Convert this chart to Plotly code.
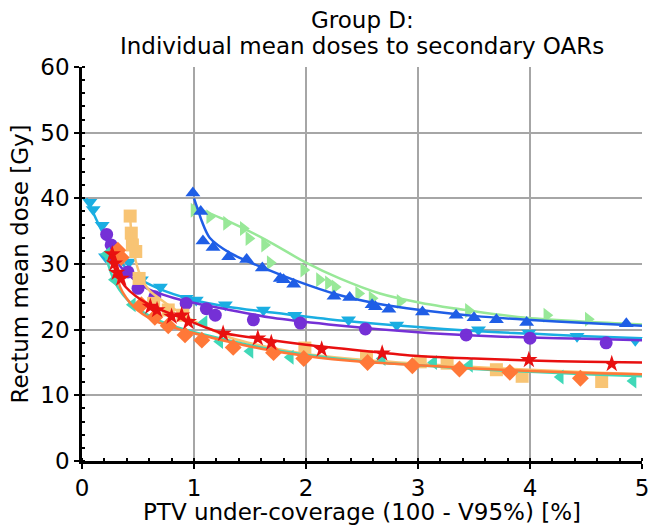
import plotly.graph_objects as go

# ---- data ----
blue_x = [0.99, 1.06, 1.08, 1.17, 1.31, 1.47, 1.61, 1.77, 1.80, 1.89, 2.25, 2.39, 2.59, 2.62, 2.74, 3.04, 3.34, 3.50, 3.70, 3.97, 4.86]
blue_y = [40.8, 38.0, 33.5, 32.5, 31.1, 30.7, 29.4, 27.8, 27.6, 26.9, 25.1, 24.9, 23.8, 23.5, 23.1, 22.7, 22.2, 21.8, 21.5, 21.1, 20.9]
blue_fit_x = [1.0, 1.04, 1.07, 1.14, 1.32, 1.62, 1.92, 2.27, 2.63, 3.02, 3.5, 3.97, 4.5, 5.0]
blue_fit_y = [40.0, 38.0, 36.5, 34.0, 31.7, 29.4, 27.4, 25.4, 24.0, 23.0, 22.1, 21.5, 21.0, 20.6]

green_x = [1.00, 1.14, 1.29, 1.44, 1.49, 1.63, 1.68, 1.98, 2.12, 2.20, 2.26, 2.47, 2.59, 2.84, 3.45, 4.15, 4.52]
green_y = [38.2, 37.2, 36.2, 35.4, 33.9, 32.9, 30.2, 29.1, 27.6, 27.1, 26.5, 25.5, 24.8, 24.3, 22.9, 22.2, 21.6]
green_fit_x = [1.0, 1.32, 1.65, 2.0, 2.3, 2.66, 3.02, 3.5, 3.97, 4.5, 5.0]
green_fit_y = [38.7, 36.4, 33.6, 30.2, 27.8, 25.5, 24.1, 22.8, 21.8, 21.2, 20.8]

cyan_x = [0.07, 0.10, 0.18, 0.21, 0.42, 0.53, 0.70, 0.93, 1.02, 1.28, 1.62, 1.90, 2.38, 2.81, 3.54, 3.99, 4.42, 4.94]
cyan_y = [39.4, 38.3, 35.9, 31.1, 30.3, 27.6, 26.5, 24.8, 24.5, 23.8, 23.0, 22.2, 21.5, 20.7, 20.0, 19.5, 19.0, 18.4]
cyan_fit_x = [0.04, 0.13, 0.22, 0.33, 0.48, 0.68, 0.98, 1.3, 1.7, 2.2, 3.0, 3.5, 4.0, 4.5, 5.0]
cyan_fit_y = [40.0, 36.7, 33.6, 30.6, 28.1, 26.3, 24.6, 23.5, 22.6, 21.6, 20.4, 19.8, 19.4, 19.0, 18.7]

purple_x = [0.22, 0.26, 0.28, 0.41, 0.50, 0.65, 0.93, 1.11, 1.19, 1.53, 1.95, 2.53, 3.43, 4.00, 4.68]
purple_y = [34.5, 32.9, 30.9, 28.8, 26.3, 25.0, 24.0, 23.2, 22.2, 21.5, 21.0, 20.1, 19.2, 18.7, 18.0]
purple_fit_x = [0.21, 0.28, 0.4, 0.58, 0.87, 1.32, 1.7, 2.2, 3.0, 3.5, 4.0, 4.5, 5.0]
purple_fit_y = [34.2, 31.1, 28.6, 26.3, 24.6, 23.0, 21.8, 20.8, 19.6, 19.1, 18.8, 18.6, 18.4]

peach_x = [0.43, 0.44, 0.45, 0.48, 0.51, 0.64, 0.77, 0.90, 1.99, 2.54, 3.02, 3.26, 3.70, 3.93, 4.64]
peach_y = [37.3, 34.7, 32.9, 31.9, 27.8, 24.0, 23.0, 22.2, 17.2, 15.9, 15.1, 14.9, 13.9, 12.9, 12.1]
peach_fit_x = [0.43, 0.46, 0.52, 0.6, 0.67, 0.93, 1.32, 1.7, 2.0, 2.5, 3.0, 3.5, 4.0, 4.5, 5.0]
peach_fit_y = [37.0, 32.0, 28.3, 26.0, 25.0, 22.0, 18.8, 17.2, 16.3, 15.4, 14.8, 14.3, 13.9, 13.5, 13.2]

orange_x = [0.32, 0.35, 0.53, 0.65, 0.77, 0.92, 1.07, 1.35, 1.71, 1.98, 2.55, 2.95, 3.37, 3.82, 4.45]
orange_y = [32.1, 31.0, 23.8, 21.9, 20.6, 19.2, 18.4, 17.3, 16.5, 15.6, 15.0, 14.5, 14.0, 13.5, 12.6]
orange_fit_x = [0.31, 0.34, 0.46, 0.64, 0.9, 1.3, 1.6, 2.0, 2.5, 3.0, 3.5, 4.0, 4.5, 5.0]
orange_fit_y = [31.0, 26.5, 23.5, 21.4, 19.9, 18.2, 17.1, 16.0, 15.1, 14.6, 14.1, 13.7, 13.4, 13.2]

red_x = [0.27, 0.29, 0.31, 0.35, 0.61, 0.67, 0.80, 0.89, 0.95, 1.26, 1.57, 1.69, 2.14, 2.68, 3.99, 4.73]
red_y = [31.5, 30.1, 28.7, 27.8, 23.5, 23.0, 22.0, 22.2, 21.2, 19.4, 18.7, 18.0, 17.0, 16.4, 15.4, 14.8]
red_fit_x = [0.26, 0.28, 0.39, 0.6, 0.89, 1.23, 1.6, 2.0, 2.5, 3.0, 3.5, 4.0, 4.5, 5.0]
red_fit_y = [31.5, 29.8, 26.5, 23.8, 21.8, 19.6, 18.6, 17.7, 16.8, 16.0, 15.6, 15.3, 15.1, 15.0]

teal_x = [0.22, 0.29, 0.45, 1.09, 1.23, 1.50, 1.86, 2.68, 3.14, 3.46, 4.27, 4.92]
teal_y = [31.5, 27.6, 23.8, 21.1, 18.2, 16.7, 15.8, 15.6, 15.0, 14.6, 12.8, 12.2]
teal_fit_x = [0.2, 0.3, 0.45, 0.65, 0.9, 1.3, 1.6, 2.0, 2.5, 3.0, 3.5, 4.0, 4.5, 5.0]
teal_fit_y = [31.8, 27.0, 23.8, 21.7, 20.1, 18.4, 17.3, 16.2, 15.2, 14.6, 14.0, 13.6, 13.2, 12.9]

x_ticks = [0, 1, 2, 3, 4, 5]
y_ticks = [0, 10, 20, 30, 40, 50, 60]
title_lines = ["Group D:", "Individual mean doses to secondary OARs"]

series = [
    (green_x, green_y, green_fit_x, green_fit_y, "#98e898", "triangle-right"),
    (blue_x, blue_y, blue_fit_x, blue_fit_y, "#1f5ee6", "triangle-up"),
    (cyan_x, cyan_y, cyan_fit_x, cyan_fit_y, "#1aaee2", "triangle-down"),
    (purple_x, purple_y, purple_fit_x, purple_fit_y, "#7530d6", "circle"),
    (peach_x, peach_y, peach_fit_x, peach_fit_y, "#f8c474", "square"),
    (teal_x, teal_y, teal_fit_x, teal_fit_y, "#40d8b8", "triangle-left"),
    (orange_x, orange_y, orange_fit_x, orange_fit_y, "#ff7838", "diamond"),
    (red_x, red_y, red_fit_x, red_fit_y, "#e81010", "star"),
]

fig = go.Figure()
for sx, sy, fx, fy, col, sym in series:
    fig.add_trace(go.Scatter(x=sx, y=sy, mode="markers",
                             marker=dict(symbol=sym, size=13, color=col, line=dict(width=0)),
                             showlegend=False, cliponaxis=False))
    fig.add_trace(go.Scatter(x=fx, y=fy, mode="lines",
                             line=dict(color=col, width=2.5, shape="spline", smoothing=0.8),
                             showlegend=False))

font_family = "DejaVu Sans"
fs = 23
plot_top, plot_bottom = 67, 461
def paper_y(py):
    return (plot_bottom - py) / (plot_bottom - plot_top)

fig.update_layout(
    width=648, height=525,
    margin=dict(l=82, r=6, t=67, b=64),
    plot_bgcolor="white", paper_bgcolor="white",
    font=dict(family=font_family, size=fs, color="black"),
    xaxis=dict(range=[0, 5], tickvals=x_ticks, showgrid=True, gridcolor="#a6a6a6", gridwidth=1.6,
               showline=True, linecolor="black", linewidth=2.5, zeroline=False,
               ticks="outside", ticklen=5, tickwidth=1.5, tickcolor="black",
               tickfont=dict(size=fs), ticklabeloverflow="allow", automargin=False,
               minor=dict(dtick=0.2, ticks="inside", ticklen=3, tickcolor="black", showgrid=False),
               title=dict(text="PTV under-coverage (100 - V95%) [%]", font=dict(size=fs), standoff=2)),
    yaxis=dict(range=[0, 60], tickvals=y_ticks, showgrid=True, gridcolor="#a6a6a6", gridwidth=1.6,
               showline=True, linecolor="black", linewidth=2.5, zeroline=False,
               ticks="outside", ticklen=5, tickwidth=1.5, tickcolor="black",
               tickfont=dict(size=fs), automargin=False,
               minor=dict(dtick=2, ticks="inside", ticklen=3, tickcolor="black", showgrid=False),
               title=dict(text="Rectum mean dose [Gy]", font=dict(size=fs), standoff=6)),
    annotations=[
        dict(text=title_lines[0], x=0.5, xref="paper", xanchor="center",
             y=paper_y(20), yref="paper", yanchor="middle", showarrow=False,
             font=dict(family=font_family, size=fs, color="black")),
        dict(text=title_lines[1], x=0.5, xref="paper", xanchor="center",
             y=paper_y(46), yref="paper", yanchor="middle", showarrow=False,
             font=dict(family=font_family, size=fs, color="black")),
    ],
)

fig.write_html("out.html")
